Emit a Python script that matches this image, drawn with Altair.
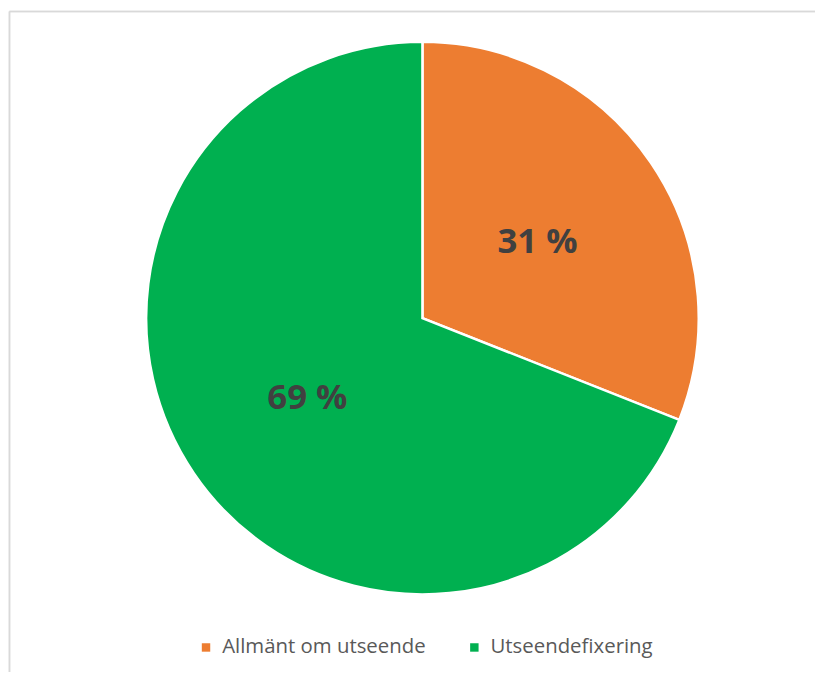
import altair as alt
import pandas as pd

categories = ["Allmänt om utseende", "Utseendefixering"]
values = [31, 69]
labels = ["31 %", "69 %"]
colors = ["#ED7D31", "#00B050"]

df = pd.DataFrame({"cat": categories, "val": values, "label": labels, "idx": [0, 1]})

CX, CY, R = 417, 310, 278

base = alt.Chart(df).encode(
    theta=alt.Theta("val:Q", stack=True),
    order=alt.Order("idx:Q", sort="ascending"),
)

pie = base.mark_arc(stroke="white", strokeWidth=2.5).encode(
    x=alt.value(CX),
    y=alt.value(CY),
    radius=alt.value(R),
    color=alt.Color(
        "cat:N",
        scale=alt.Scale(domain=categories, range=colors),
        legend=alt.Legend(
            title=None,
            orient="none",
            direction="horizontal",
            legendX=189,
            legendY=631,
            symbolType="square",
            symbolSize=72,
            symbolStrokeWidth=0,
            labelFont="Open Sans",
            labelFontSize=20.5,
            labelColor="#595959",
            labelOffset=6,
            labelLimit=0,
            columnPadding=38,
            padding=0,
        ),
    ),
)

text = base.mark_text(
    font="Open Sans", fontSize=35, fontWeight="bold", color="#404040", dy=2
).encode(
    x=alt.value(CX),
    y=alt.value(CY),
    radius=alt.value(140),
    text="label:N",
)

border_top = alt.Chart(df).mark_rule(color="#d9d9d9", strokeWidth=1.5).encode(
    x=alt.value(1.5), x2=alt.value(900), y=alt.value(1.5)
)
border_left = alt.Chart(df).mark_rule(color="#d9d9d9", strokeWidth=1.5).encode(
    x=alt.value(1.5), y=alt.value(1.5), y2=alt.value(900)
)

chart = alt.layer(border_top, border_left, pie, text).properties(
    width=812,
    height=664,
    padding=0,
    autosize=alt.AutoSizeParams(type="none"),
).configure_view(stroke=None)

chart.save("out.html", embed_options={"renderer": "svg", "actions": False})
